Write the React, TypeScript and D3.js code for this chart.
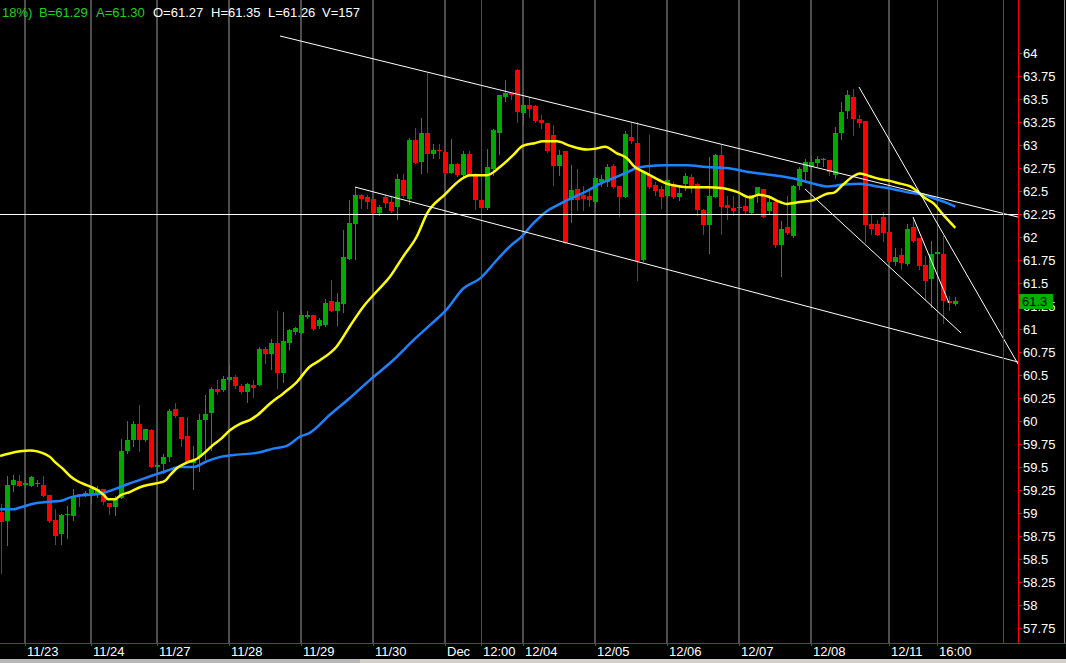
import React, { useEffect, useRef } from 'react';
import * as d3 from 'd3';

// OHLC per 30-min bar
const opens = [
  59.01, 58.91, 59.30, 59.35, 59.30, 59.29, 59.32, 59.30, 59.20, 58.92,
  58.77, 58.98, 58.97, 59.21, 59.20, 59.20, 59.21, 59.26, 59.11, 59.06,
  59.16, 59.67, 59.79, 59.97, 59.79, 59.90, 59.50, 59.53, 59.61, 60.13,
  60.04, 59.84, 59.54, 59.61, 60.01, 60.09, 60.35, 60.34, 60.45, 60.48,
  60.38, 60.32, 60.39, 60.39, 60.78, 60.73, 60.85, 60.52, 60.85, 60.97,
  60.96, 61.13, 61.15, 61.03, 61.04, 61.30, 61.20, 61.27, 61.76, 62.14,
  62.46, 62.43, 62.41, 62.26, 62.44, 62.38, 62.33, 62.62, 62.41, 63.05,
  62.82, 63.13, 62.90, 62.95, 62.92, 62.70, 62.79, 62.67, 62.90, 62.69,
  62.40, 62.31, 62.74, 63.13, 63.52, 63.57, 63.82, 63.35, 63.44, 63.42,
  63.27, 63.24, 63.11, 62.77, 62.94, 62.40, 62.52, 62.46, 62.45, 62.38,
  62.60, 62.60, 62.77, 62.55, 62.44, 63.09, 63.02, 61.75, 62.67, 62.56,
  62.52, 62.45, 62.58, 62.43, 62.58, 62.65, 62.58, 62.29, 62.13, 62.44,
  62.89, 62.35, 62.32, 62.32, 62.34, 62.26, 62.47, 62.52, 62.28, 62.38,
  61.91, 62.11, 62.01, 62.55, 62.71, 62.76, 62.80, 62.84, 62.84, 62.67,
  63.13, 63.37, 63.52, 63.28, 63.26, 62.14, 62.14, 62.22, 62.05, 61.73,
  61.80, 61.71, 62.11, 61.99, 61.70, 61.54, 61.82, 61.82, 61.30, 61.27,
];
const highs = [
  59.10, 59.40, 59.41, 59.41, 59.36, 59.40, 59.36, 59.40, 59.20, 59.04,
  58.99, 59.08, 59.26, 59.21, 59.24, 59.29, 59.29, 59.26, 59.11, 59.18,
  59.80, 60.00, 60.00, 60.17, 59.91, 59.91, 59.55, 59.64, 60.13, 60.20,
  60.04, 60.04, 59.73, 60.08, 60.28, 60.37, 60.45, 60.49, 60.61, 60.50,
  60.40, 60.41, 60.45, 60.80, 60.80, 60.89, 61.20, 61.18, 61.00, 61.02,
  61.20, 61.20, 61.15, 61.12, 61.33, 61.53, 61.39, 62.08, 62.40, 62.54,
  62.47, 62.46, 62.41, 62.35, 62.46, 62.45, 62.69, 62.68, 63.08, 63.19,
  63.29, 63.78, 63.01, 63.01, 62.92, 63.07, 62.80, 62.93, 62.94, 62.70,
  62.46, 62.96, 63.17, 63.54, 63.71, 63.57, 63.83, 63.53, 63.52, 63.43,
  63.33, 63.24, 63.22, 62.95, 62.94, 62.78, 62.74, 62.55, 62.51, 62.67,
  62.67, 62.79, 62.79, 62.55, 63.15, 63.25, 63.25, 62.72, 63.11, 62.60,
  62.55, 62.63, 62.60, 62.55, 62.70, 62.69, 62.59, 62.30, 62.87, 62.90,
  63.00, 62.45, 62.45, 62.46, 62.42, 62.46, 62.54, 62.52, 62.46, 62.39,
  62.17, 62.45, 62.56, 62.76, 62.85, 62.88, 62.88, 62.86, 62.84, 63.20,
  63.47, 63.60, 63.61, 63.33, 63.26, 62.24, 62.18, 62.27, 62.06, 61.88,
  61.88, 62.14, 62.21, 61.99, 61.79, 61.96, 62.15, 62.01, 61.36, 61.35,
];
const lows = [
  58.35, 58.65, 59.24, 59.29, 59.28, 59.29, 59.29, 59.18, 58.90, 58.66,
  58.66, 58.73, 58.92, 59.08, 59.19, 59.11, 59.17, 59.10, 58.99, 58.98,
  59.16, 59.65, 59.73, 59.67, 59.78, 59.50, 59.45, 59.44, 59.57, 60.04,
  59.73, 59.54, 59.26, 59.46, 59.59, 59.69, 60.29, 60.33, 60.44, 60.36,
  60.30, 60.21, 60.26, 60.39, 60.63, 60.56, 60.36, 60.42, 60.78, 60.95,
  60.96, 61.12, 60.99, 61.01, 61.03, 61.20, 61.04, 61.19, 61.76, 61.76,
  62.31, 62.31, 62.20, 62.24, 62.33, 62.27, 62.20, 62.44, 62.36, 62.80,
  62.70, 62.71, 62.86, 62.86, 62.60, 62.70, 62.66, 62.66, 62.66, 62.30,
  62.26, 62.30, 62.67, 62.90, 63.48, 63.50, 63.25, 63.22, 63.30, 63.25,
  63.18, 62.92, 62.57, 62.67, 61.93, 62.16, 62.29, 62.29, 62.34, 62.33,
  62.55, 62.55, 62.53, 62.23, 62.43, 63.02, 61.53, 61.74, 62.53, 62.46,
  62.31, 62.44, 62.42, 62.40, 62.51, 62.49, 62.24, 62.03, 61.83, 62.43,
  62.03, 62.20, 62.24, 62.25, 62.25, 62.26, 62.38, 62.22, 62.26, 61.89,
  61.58, 62.03, 62.00, 62.52, 62.62, 62.72, 62.77, 62.77, 62.67, 62.64,
  63.07, 63.29, 63.11, 63.20, 61.95, 62.03, 62.02, 61.96, 61.68, 61.70,
  61.65, 61.70, 61.95, 61.65, 61.33, 61.24, 61.24, 61.07, 61.21, 61.26,
];
const closes = [
  58.90, 59.30, 59.36, 59.29, 59.33, 59.39, 59.33, 59.18, 58.91, 58.75,
  58.98, 58.99, 59.19, 59.19, 59.22, 59.26, 59.26, 59.12, 59.06, 59.15,
  59.67, 59.79, 59.97, 59.79, 59.91, 59.50, 59.52, 59.61, 60.11, 60.05,
  59.80, 59.54, 59.58, 60.01, 60.08, 60.35, 60.32, 60.46, 60.48, 60.38,
  60.32, 60.40, 60.36, 60.78, 60.73, 60.85, 60.52, 60.87, 60.99, 61.01,
  61.15, 61.15, 61.00, 61.10, 61.28, 61.20, 61.29, 61.78, 62.15, 62.46,
  62.41, 62.38, 62.26, 62.33, 62.37, 62.28, 62.63, 62.45, 63.05, 62.80,
  63.13, 62.90, 62.95, 62.93, 62.70, 62.79, 62.67, 62.90, 62.67, 62.40,
  62.31, 62.76, 63.16, 63.54, 63.57, 63.54, 63.36, 63.44, 63.39, 63.26,
  63.24, 62.93, 62.77, 62.89, 61.94, 62.51, 62.40, 62.41, 62.40, 62.64,
  62.63, 62.76, 62.54, 62.44, 63.12, 63.04, 61.74, 62.71, 62.54, 62.50,
  62.43, 62.62, 62.43, 62.48, 62.66, 62.55, 62.29, 62.13, 62.45, 62.89,
  62.33, 62.32, 62.28, 62.33, 62.28, 62.46, 62.54, 62.22, 62.38, 61.91,
  62.09, 62.04, 62.55, 62.74, 62.81, 62.81, 62.85, 62.85, 62.71, 63.13,
  63.36, 63.54, 63.28, 63.24, 62.13, 62.09, 62.02, 62.04, 61.73, 61.78,
  61.72, 62.09, 61.96, 61.69, 61.52, 61.82, 61.84, 61.30, 61.28, 61.30,
];

// session separators: bar index, label, full day or intraday time
const sessionBars = [4, 15, 26, 38, 50, 62, 74, 80, 87, 99, 111, 123, 135, 148, 156];
const sessionLabels = ['11/23', '11/24', '11/27', '11/28', '11/29', '11/30', 'Dec', '12:00',
  '12/04', '12/05', '12/06', '12/07', '12/08', '12/11', '16:00'];
const sessionIsDay = [true, true, true, true, true, true, true, false,
  true, true, true, true, true, true, false];

const priceTicks = [57.75, 58, 58.25, 58.5, 58.75, 59, 59.25, 59.5, 59.75, 60, 60.25, 60.5,
  60.75, 61, 61.25, 61.5, 61.75, 62, 62.25, 62.5, 62.75, 63, 63.25, 63.5, 63.75, 64];

// moving averages sampled at [bar, price]
const yellowMA: [number, number][] = [
  [-0.2, 59.62], [1.5, 59.65], [3.1, 59.67], [4.8, 59.68], [6, 59.67], [7.3, 59.64], [8.1, 59.61],
  [9, 59.55], [10.1, 59.49], [11.5, 59.40], [12.6, 59.35], [14.3, 59.30], [16, 59.25], [17, 59.20],
  [17.8, 59.15], [19, 59.15], [19.8, 59.19], [21.5, 59.23], [23.1, 59.28], [24.8, 59.31], [26.4, 59.33],
  [27.3, 59.35], [28.1, 59.41], [29.3, 59.49], [31, 59.55], [32.6, 59.59], [34.3, 59.68], [35.3, 59.74],
  [36.5, 59.80], [38.1, 59.90], [39.8, 59.97], [41.4, 60.01], [42.6, 60.06], [44.8, 60.19], [47, 60.30],
  [49.2, 60.42], [51.4, 60.59], [53.1, 60.66], [55.9, 60.81], [58.1, 61.03], [60.3, 61.24], [62.6, 61.41],
  [64.8, 61.57], [67, 61.79], [69.2, 62.00], [71, 62.26], [73.9, 62.46], [76.5, 62.62], [78.1, 62.67],
  [80.9, 62.67], [83.1, 62.76], [85.3, 62.89], [86.9, 62.99], [88.9, 63.02], [90.3, 63.04], [92.6, 63.04],
  [94.8, 62.99], [97.6, 62.95], [99, 62.96], [100.6, 62.98], [102.6, 62.91], [104.2, 62.86], [105.6, 62.76],
  [107, 62.71], [108.7, 62.65], [110.9, 62.58], [113.1, 62.55], [115.3, 62.54], [117.6, 62.54], [120.3, 62.53],
  [122.6, 62.49], [124.8, 62.43], [126.2, 62.46], [127.8, 62.44], [129.8, 62.38], [130.9, 62.36], [133.1, 62.38],
  [135.3, 62.40], [137.6, 62.47], [138.7, 62.48], [140.3, 62.57], [142, 62.66], [143.1, 62.69], [144.8, 62.66],
  [146.4, 62.63], [148.1, 62.61], [149.8, 62.58], [151.5, 62.55], [152.6, 62.50], [154, 62.42], [155.3, 62.37],
  [157, 62.24], [159, 62.10],
];
const blueMA: [number, number][] = [
  [-0.2, 59.04], [2, 59.04], [3.1, 59.06], [5.3, 59.10], [7.6, 59.12], [9.8, 59.13], [11.5, 59.17],
  [13.1, 59.19], [15.3, 59.20], [16.4, 59.21], [18.1, 59.24], [20.9, 59.31], [23.1, 59.36], [25.3, 59.41],
  [27.6, 59.46], [29.8, 59.50], [32, 59.50], [34.2, 59.56], [36.5, 59.61], [38.7, 59.63], [43.1, 59.66],
  [45.3, 59.70], [47.6, 59.73], [49.8, 59.83], [51.4, 59.87], [54.8, 60.07], [58.1, 60.25], [61.5, 60.45],
  [65.3, 60.66], [68.7, 60.88], [71.4, 61.04], [74.2, 61.21], [77, 61.44], [79.8, 61.55], [82.6, 61.75],
  [85.3, 61.93], [86.5, 61.99], [88.7, 62.15], [90.9, 62.28], [93.1, 62.36], [95.3, 62.43], [97.6, 62.50],
  [99.8, 62.58], [102, 62.64], [104.2, 62.70], [105.9, 62.75], [107.6, 62.77], [110.9, 62.78], [114.2, 62.78],
  [117.6, 62.76], [120.9, 62.75], [124.2, 62.71], [127.6, 62.68], [130.9, 62.65], [133.1, 62.62], [135.3, 62.58],
  [137.6, 62.55], [140.3, 62.57], [143.1, 62.58], [145.9, 62.55], [148.7, 62.52], [151.5, 62.48], [153.7, 62.46],
  [155.9, 62.41], [157.6, 62.37], [159, 62.33],
];

// drawn trendlines: [bar1, price1, bar2, price2]
const trendLines: [number, number, number, number][] = [
  [46.45, 64.185, 169.45, 62.217],
  [58.95, 62.543, 169.45, 60.641],
  [142.95, 63.63, 169.45, 60.62],
  [133.95, 62.522, 159.95, 60.957],
  [151.95, 62.217, 157.95, 61.283],
];
const levelLine = 62.25;
const lastPrice = 61.3;

const quoteTexts = ['18%)', 'B=61.29', 'A=61.30', 'O=61.27', 'H=61.35', 'L=61.26', 'V=157'];

export default function App() {
  const svgRef = useRef<SVGSVGElement>(null);

  useEffect(() => {
    if (!svgRef.current) return;
    const width = 1066;
    const height = 663;
    const plotRight = 1018;
    const plotBottom = 643;
    const font = 'Liberation Sans, Arial, sans-serif';
    const green = '#00a800';
    const red = '#ff0000';

    const svg = d3.select(svgRef.current);
    svg.selectAll('*').remove();
    svg.attr('width', width).attr('height', height);

    svg.append('rect').attr('width', width).attr('height', height).attr('fill', '#000');

    const x = d3.scaleLinear().domain([0, 159]).range([1.3, 955.3]);
    const y = d3.scaleLinear().domain([57.75, 64]).range([628, 53]);
    const cx = (i: number) => Math.round(x(i));

    // session grid
    sessionBars.forEach((b, k) => {
      svg.append('rect')
        .attr('x', cx(b) - (sessionIsDay[k] ? 1 : 0))
        .attr('y', 0)
        .attr('width', sessionIsDay[k] ? 2 : 1)
        .attr('height', plotBottom)
        .attr('fill', '#4e4e4e');
    });

    // candles
    const g = svg.append('g');
    opens.forEach((o, i) => {
      const c = closes[i];
      const col = c >= o ? green : red;
      const xc = cx(i);
      g.append('line')
        .attr('x1', xc + 0.5).attr('x2', xc + 0.5)
        .attr('y1', Math.round(y(highs[i]))).attr('y2', Math.round(y(lows[i])) + 1)
        .attr('stroke', col).attr('stroke-width', 1);
      const top = Math.round(y(Math.max(o, c)));
      const bot = Math.round(y(Math.min(o, c)));
      g.append('rect')
        .attr('x', xc - 2).attr('y', top)
        .attr('width', 5).attr('height', Math.max(1, bot - top))
        .attr('fill', col);
    });

    // moving averages
    const line = d3.line<[number, number]>()
      .x(d => x(d[0]))
      .y(d => y(d[1]))
      .curve(d3.curveMonotoneX);
    svg.append('path').attr('d', line(blueMA)).attr('fill', 'none')
      .attr('stroke', '#1e82ff').attr('stroke-width', 2.5);
    svg.append('path').attr('d', line(yellowMA)).attr('fill', 'none')
      .attr('stroke', '#ffff00').attr('stroke-width', 2.5);

    // level + trendlines
    svg.append('line')
      .attr('x1', 0).attr('x2', plotRight)
      .attr('y1', Math.round(y(levelLine)) + 0.5).attr('y2', Math.round(y(levelLine)) + 0.5)
      .attr('stroke', '#fff').attr('stroke-width', 1);
    trendLines.forEach(t => {
      svg.append('line')
        .attr('x1', x(t[0])).attr('y1', y(t[1]))
        .attr('x2', x(t[2])).attr('y2', y(t[3]))
        .attr('stroke', '#fff').attr('stroke-width', 1);
    });

    // frame lines
    svg.append('line').attr('x1', 1003.5).attr('x2', 1003.5).attr('y1', 0).attr('y2', plotBottom)
      .attr('stroke', red);
    svg.append('line').attr('x1', plotRight + 0.5).attr('x2', plotRight + 0.5).attr('y1', 0).attr('y2', plotBottom)
      .attr('stroke', red);
    svg.append('line').attr('x1', 0).attr('x2', width).attr('y1', plotBottom + 0.5).attr('y2', plotBottom + 0.5)
      .attr('stroke', red);
    svg.append('line').attr('x1', 1064.5).attr('x2', 1064.5).attr('y1', 0).attr('y2', plotBottom)
      .attr('stroke', '#808080');

    // price axis
    priceTicks.forEach(v => {
      const yy = Math.round(y(v));
      svg.append('line').attr('x1', plotRight).attr('x2', plotRight + 4)
        .attr('y1', yy + 0.5).attr('y2', yy + 0.5).attr('stroke', red);
      svg.append('text').attr('x', plotRight + 5).attr('y', yy + 5)
        .attr('fill', '#fff').attr('font-family', font).attr('font-size', 13)
        .text(String(v));
    });

    // last price tag
    const ly = Math.round(y(lastPrice));
    svg.append('rect').attr('x', plotRight + 1).attr('y', ly - 7).attr('width', 34).attr('height', 15)
      .attr('fill', '#00b000');
    svg.append('text').attr('x', plotRight + 4).attr('y', ly + 5)
      .attr('fill', '#000').attr('font-family', font).attr('font-size', 13)
      .text(String(lastPrice));

    // time axis
    sessionBars.forEach((b, k) => {
      svg.append('line').attr('x1', cx(b) + 0.5).attr('x2', cx(b) + 0.5)
        .attr('y1', plotBottom).attr('y2', plotBottom + 3).attr('stroke', red);
      svg.append('text').attr('x', cx(b) + 2).attr('y', 656)
        .attr('fill', '#fff').attr('font-family', font).attr('font-size', 13)
        .text(sessionLabels[k]);
    });

    // scrollbar strip
    svg.append('rect').attr('x', 0).attr('y', 659).attr('width', width).attr('height', 4).attr('fill', '#d4d0c8');
    svg.append('rect').attr('x', 0).attr('y', 659).attr('width', 360).attr('height', 4).attr('fill', '#b8b8b8');

    // quote header
    const quoteX = [2, 39, 96, 153, 211, 268, 322];
    quoteTexts.forEach((t, k) => {
      svg.append('text').attr('x', quoteX[k]).attr('y', 17)
        .attr('fill', k < 3 ? '#1ed21e' : '#fff')
        .attr('font-family', font).attr('font-size', 13)
        .text(t);
    });
  }, []);

  return (
    <svg ref={svgRef} style={{ position: 'fixed', left: 0, top: 0, display: 'block' }}></svg>
  );
}
